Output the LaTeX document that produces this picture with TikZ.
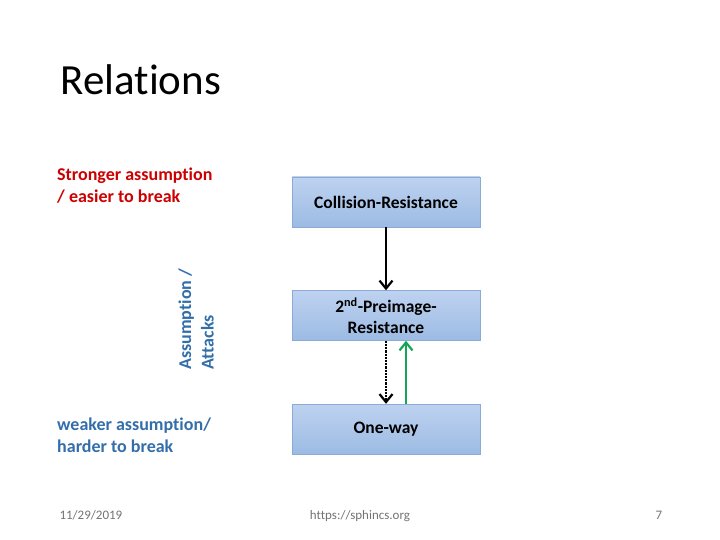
\documentclass[tikz,border=0pt]{standalone}
\usepackage{fontspec}
\setmainfont[Ligatures=NoCommon]{Carlito}
\usepackage{tikz}
\usetikzlibrary{positioning,arrows.meta}
\definecolor{boxtop}{RGB}{190,210,240}
\definecolor{boxbottom}{RGB}{156,187,227}
\definecolor{boxdraw}{RGB}{140,170,214}
\definecolor{strongred}{RGB}{204,0,0}
\definecolor{weakblue}{RGB}{50,110,170}
\definecolor{relgreen}{RGB}{20,165,85}
\colorlet{footgrey}{black!55}
\begin{document}
\begin{tikzpicture}[x=1pt,y=-1pt,every node/.style={font=\bfseries\fontsize{18}{21.5}\selectfont},
    propbox/.style={draw=boxdraw,top color=boxtop,bottom color=boxbottom,minimum width=188pt,minimum height=50pt,align=center,inner sep=2pt,font=\bfseries\fontsize{17.5}{20.5}\selectfont},
    implies/.style={-{Straight Barb[length=8pt,width=13pt]},line width=2.2pt},
    footnote/.style={font=\fontsize{13}{15}\selectfont,text=footgrey}]
    \useasboundingbox (0,0) rectangle (720,540);
    \node[anchor=base west,font=\fontsize{43}{48}\selectfont] (title) at (57,95) {Relations};
    % left side labels
    \node[anchor=north west,align=left,text=strongred,inner sep=0pt] (strong) at (57,168) {Stronger assumption\\/ easier to break};
    \node[anchor=north west,align=left,text=weakblue,inner sep=0pt] (weak) at (57,418) {weaker assumption/\\harder to break};
    \node[rotate=90,anchor=south west,align=left,text=weakblue,inner sep=0pt,font=\bfseries\fontsize{18}{22.5}\selectfont] (axis) at (214,370) {Assumption /\\Attacks};
    % boxes
    \node[propbox] (coll) at (386,202) {Collision-Resistance};
    \node[propbox] (pre) at (386,315.5) {2\textsuperscript{nd}-Preimage-\\Resistance};
    \node[propbox] (ow) at (386,429) {One-way};
    \draw[implies] (coll) -- (pre);
    \draw[implies,densely dotted] (pre) -- (ow);
    \draw[implies,relgreen] ([xshift=20pt]ow.north) -- ([xshift=20pt]pre.south);
    % footer
    \node[footnote,anchor=base west] (date) at (56,519) {11/29/2019};
    \node[footnote,anchor=base] (url) at (360,519) {https://sphincs.org};
    \node[footnote,anchor=base] (page) at (659,519) {7};
\end{tikzpicture}
\end{document}
